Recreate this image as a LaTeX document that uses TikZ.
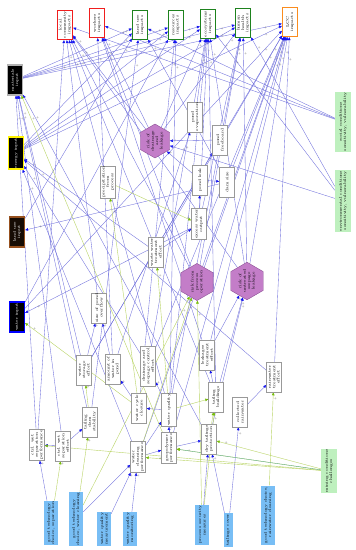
\documentclass[tikz,border=0pt]{standalone}
\usetikzlibrary{arrows.meta,shapes.geometric}
\definecolor{eblue}{RGB}{110,110,220}
\definecolor{ablue}{RGB}{20,20,240}
\definecolor{egreen}{RGB}{185,212,100}
\definecolor{agreen}{RGB}{120,190,10}
\definecolor{eteal}{RGB}{110,180,160}
\definecolor{impred}{RGB}{240,30,30}
\definecolor{impgreen}{RGB}{30,130,30}
\definecolor{imporange}{RGB}{250,140,30}
\definecolor{condgreen}{RGB}{190,240,190}
\definecolor{ctrlblue}{RGB}{120,190,245}
\definecolor{hexfill}{RGB}{195,125,200}
\definecolor{hexdraw}{RGB}{140,80,150}
\definecolor{landbrown}{RGB}{150,80,30}
\pgfdeclarelayer{bg}\pgfsetlayers{bg,main}
\tikzset{
 lbl/.style={rotate=90, align=center, font=\fontsize{4}{4.4}\selectfont, inner sep=0.8pt},
 vbox/.style={lbl, draw=gray!80, fill=white, line width=0.5pt, minimum width=30pt, minimum height=15pt},
 imp/.style={lbl, fill=white, line width=1.2pt, minimum width=29pt, minimum height=15pt},
 inp/.style={lbl, fill=black, text=white, line width=1.2pt, minimum width=30pt, minimum height=15pt},
 cond/.style={lbl, fill=condgreen, minimum height=16pt},
 ctrl/.style={lbl, fill=ctrlblue, minimum height=14pt},
 hexa/.style={lbl, regular polygon, regular polygon sides=6, fill=hexfill, draw=hexdraw, line width=0.4pt, inner sep=0pt, minimum size=34pt},
 eb/.style={draw=eblue, line width=0.35pt, -{Triangle[length=3pt,width=2.6pt,color=ablue]}},
 eg/.style={draw=egreen, line width=0.4pt, -{Triangle[length=3pt,width=2.6pt,color=agreen]}},
 et/.style={draw=eteal, line width=0.4pt, -{Triangle[length=3pt,width=2.6pt,color=agreen]}},
 pm/.style={font=\fontsize{3}{3}\selectfont, text=black!70, inner sep=0.5pt, anchor=west},
}
\newcommand\EB[2]{\draw[eb] (#1) -- (#2) node[pm,pos=0.93]{+};}
\newcommand\EG[2]{\draw[eg] (#1) -- (#2) node[pm,pos=0.93]{+};}
\begin{document}
\begin{tikzpicture}[x=1pt,y=-1pt]
\useasboundingbox (0,0) rectangle (356,550);
% impacts
\node[imp,draw=impred] (lci) at (65,25) {local\\community\\impacts};
\node[imp,draw=impred] (wi) at (97,23) {workers\\impacts};
\node[imp,draw=impgreen] (lui) at (140,25) {land use\\impacts};
\node[imp,draw=impgreen] (ri) at (176,25) {resources\\impacts};
\node[imp,draw=impgreen] (ei) at (208,24) {ecosystems\\impacts};
\node[imp,draw=impgreen] (hhi) at (243,23) {human\\health\\impacts};
\node[imp,draw=imporange] (lcc) at (290,22) {LCC\\impacts};
% inputs
\node[inp,draw=gray!60] (mat) at (15,80) {materials\\input};
\node[inp,draw=yellow] (ene) at (16,153) {energy input};
\node[inp,draw=landbrown,fill=black!85!landbrown] (lan) at (17,232) {land use\\input};
\node[inp,draw=blue] (wat) at (17,317) {water input};
% conditions
\node[cond,minimum width=58pt] (soc) at (343,122) {social conditions\\sensitivity, vulnerability};
\node[cond,minimum width=62pt] (env) at (343,201) {environmental conditions\\sensitivity, vulnerability};
\node[cond,minimum width=39pt] (min) at (329,471) {mining conditions\\challenges};
% controls
\node[ctrl,minimum width=44pt] (gtsep) at (51,523) {good technology\\choice, separation};
\node[ctrl,minimum width=52pt] (gtwc) at (76,519) {good technology\\choice, water cleaning};
\node[ctrl,minimum width=31pt] (wqm) at (104,529) {water quality\\measurement};
\node[ctrl,minimum width=31pt] (wqmon) at (130,529) {water quality\\monitoring};
\node[ctrl,minimum width=39pt] (psm) at (202,525) {process security\\measures};
\node[ctrl,minimum width=30pt,minimum height=9pt] (tc) at (228,530) {tailings cover};
\node[ctrl,minimum width=59pt] (gtrc) at (268,515) {good technology choice,\\rainwater cleaning};
% hexagons
\node[hexa] (hexdl) at (155,141) {risk of\\drainage\\and\\leakage};
\node[hexa] (hexpo) at (197,282) {risk from\\process\\operation};
\node[hexa,minimum size=37pt] (hexus) at (247,281) {risk of\\untreated\\seepage\\leakage};
% middle boxes
\node[vbox] (pevap) at (195,117) {pond\\evaporation};
\node[vbox] (pfb) at (220,140) {pond\\freeboard};
\node[vbox] (pleak) at (200,180) {pond leak};
\node[vbox] (dam) at (227,182) {dam size};
\node[vbox] (excess) at (199,224) {excess water\\output};
\node[vbox] (precip) at (108,182) {precipitation\\from\\process};
\node[vbox] (wwt) at (156,252) {waste water\\treatment\\effort};
\node[vbox] (size) at (99,308) {size of pond\\overflow};
\node[vbox] (wse) at (84,370) {water\\storage\\effort};
\node[vbox] (amt) at (113,369) {amount of\\water in\\pond};
\node[vbox,minimum width=40pt] (dsc) at (148,366) {drainage and\\seepage control\\effort};
\node[vbox] (wcc) at (139,408) {water cycle\\closure};
\node[vbox] (wq) at (169,410) {water quality};
\node[vbox] (tds) at (90,422) {tailing\\dam\\stability};
\node[vbox] (cwsp) at (37,445) {ctrl. wet\\separation\\performance};
\node[vbox] (cwse) at (63,446) {ctrl. wet\\separation\\effort};
\node[vbox] (wcp) at (138,457) {water\\cleaning\\performance};
\node[vbox] (geo) at (169,448) {geopolymer\\performance};
\node[vbox] (dtp) at (209,439) {dry tailings\\protection};
\node[vbox] (tb) at (216,397) {tailing\\buildings};
\node[vbox] (cr) at (240,412) {collected\\rainwater};
\node[vbox] (rte) at (274,377) {rainwater\\treatment\\effort};
\node[vbox] (lte) at (207,355) {leakages\\treatment\\effort};
\begin{pgfonlayer}{bg}
\fill[white] (0,0) rectangle (356,550);
% inputs to impacts
\EB{mat}{lui}\EB{mat}{ri}\EB{mat}{ei}\EB{mat}{hhi}\EB{mat}{lcc}
\EB{ene}{lui}\EB{ene}{ri}\EB{ene}{ei}\EB{ene}{hhi}\EB{ene}{lcc}
\EB{lan}{lui}\EB{wat}{ri}\EB{wat}{lcc}
% conditions
\EB{soc}{lci}\EB{soc}{wi}\EB{soc}{lui}
\EB{env}{hexdl}\EB{env}{ei}\EB{env}{hhi}
% risks
\EB{hexdl}{lci}\EB{hexdl}{wi}\EB{hexdl}{ei}\EB{hexdl}{hhi}
\EB{hexpo}{lci}\EB{hexpo}{wi}\EB{hexpo}{hhi}\EB{hexpo}{lcc}
\EB{hexus}{ei}\EB{hexus}{hhi}\EB{hexus}{lci}\EB{hexus}{lcc}
% pond
\EB{pevap}{ei}\EB{pleak}{hexdl}\EB{pfb}{hexdl}\EB{dam}{lui}\EB{dam}{lcc}
\EB{excess}{pleak}\EB{pleak}{dam}\EB{wse}{pfb}\EB{amt}{pevap}
\EB{wwt}{excess}\EB{excess}{ei}\EB{excess}{hhi}\EB{wwt}{lcc}\EB{wwt}{ene}
\EB{dam}{lan}\EB{excess}{wat}
% lower part
\EB{wse}{size}\EB{amt}{size}\EB{wcc}{amt}\EB{wq}{dsc}\EB{wq}{wcc}
\EB{wcp}{wq}\EB{geo}{wq}\EB{cwse}{tds}\EB{cwse}{cwsp}\EB{gtsep}{cwsp}
\EB{gtwc}{wcp}\EB{wqm}{wcp}\EB{wqmon}{wcp}\EB{wcp}{geo}\EB{geo}{dtp}
\EB{psm}{dtp}\EB{tc}{dtp}\EB{tb}{lte}\EB{tc}{cr}\EB{cr}{rte}
\EB{dtp}{hexus}\EB{tb}{hexus}\EB{lte}{hexus}
% lower to top
\EB{cwsp}{mat}\EB{cwse}{mat}\EB{wse}{mat}\EB{tds}{mat}\EB{dtp}{mat}
\EB{dsc}{ene}\EB{dsc}{lcc}\EB{dsc}{ei}\EB{wq}{ei}\EB{wq}{hhi}\EB{wq}{lci}
\EB{rte}{lcc}\EB{rte}{ene}\EB{lte}{lcc}\EB{lte}{wi}\EB{tb}{lci}\EB{tb}{ei}
\EB{wcp}{lcc}\EB{wcp}{ene}\EB{cwsp}{lci}\EB{geo}{lcc}\EB{geo}{ri}
\EB{tds}{lui}\EB{wse}{lcc}\EB{amt}{wi}\EB{wcc}{ri}\EB{size}{lci}
% green
\EG{gtsep}{cwse}\EG{min}{cwsp}\EG{min}{geo}\EG{min}{wcp}\EG{min}{dtp}
\EG{wcc}{wat}\EG{wcc}{precip}\EG{wq}{wwt}\EG{precip}{excess}\EG{tds}{wse}
\EG{gtwc}{tds}\EG{gtwc}{hexpo}\EG{psm}{hexpo}\EG{wcp}{hexpo}\EG{dtp}{tb}
\EG{wq}{tb}\EG{gtrc}{rte}\EG{geo}{mat}\EG{psm}{tb}
\draw[et] (min) -- (geo);
\end{pgfonlayer}
\end{tikzpicture}
\end{document}
